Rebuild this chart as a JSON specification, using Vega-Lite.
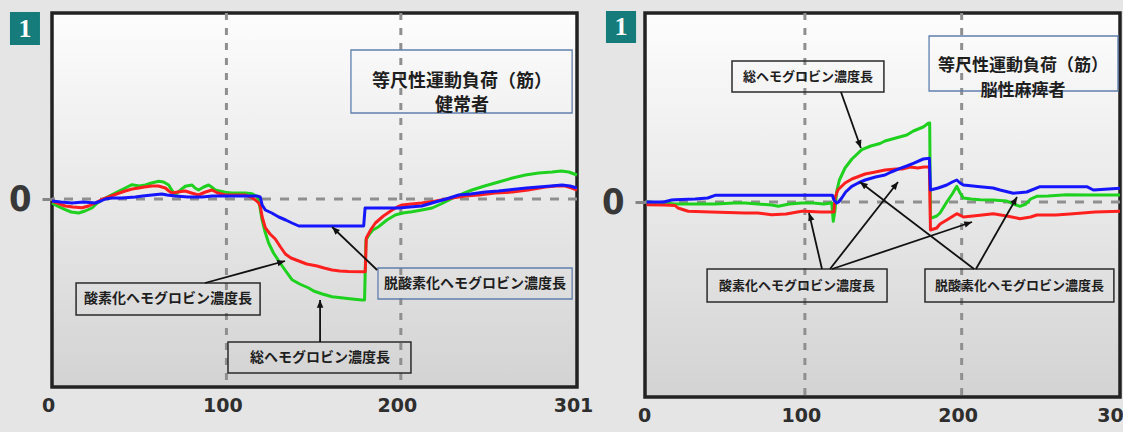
{
  "$schema": "https://vega.github.io/schema/vega-lite/v6.json",
  "background": "#e5e5e5",
  "padding": {"left": 6, "top": 9, "right": 0, "bottom": 10},
  "spacing": 68,
  "bounds": "flush",
  "config": {
    "view": {
      "stroke": "#222222",
      "strokeWidth": 3.5,
      "fill": {"gradient": "linear", "x1": 0, "y1": 0, "x2": 0, "y2": 1, "stops": [{"offset": 0, "color": "#fdfdfd"}, {"offset": 1, "color": "#d3d3d3"}]}
    },
    "axisX": {"grid": false, "domain": false, "ticks": false, "labelFont": "DejaVu Sans", "labelFontWeight": "bold", "labelFontSize": 19, "labelColor": "#2e2e2e", "labelPadding": 9, "labelFlush": false, "labelOverlap": false},
    "axisY": {"grid": false, "domain": false, "ticks": true, "tickSize": 10, "tickColor": "#858585", "tickWidth": 3, "labelFont": "Liberation Sans Narrow, DejaVu Sans Condensed, Liberation Sans", "labelFontWeight": "bold", "labelFontSize": 36, "labelColor": "#383838", "labelPadding": 11}
  },
  "datasets": {
    "refX": [{"x": 100}, {"x": 200}],
    "refY": [{"y": 0}],
    "curvesL": [
      {"s": "総ヘモグロビン", "t": 0, "v": -4}, {"s": "総ヘモグロビン", "t": 3, "v": -7}, {"s": "総ヘモグロビン", "t": 7.6, "v": -10.7}, {"s": "総ヘモグロビン", "t": 11, "v": -13}, {"s": "総ヘモグロビン", "t": 15.3, "v": -14}, {"s": "総ヘモグロビン", "t": 19, "v": -12}, {"s": "総ヘモグロビン", "t": 22.9, "v": -9}, {"s": "総ヘモグロビン", "t": 26, "v": -4}, {"s": "総ヘモグロビン", "t": 30.6, "v": 1}, {"s": "総ヘモグロビン", "t": 34, "v": 4}, {"s": "総ヘモグロビン", "t": 38.2, "v": 7.7}, {"s": "総ヘモグロビン", "t": 42, "v": 11}, {"s": "総ヘモグロビン", "t": 45.9, "v": 14.3}, {"s": "総ヘモグロビン", "t": 50, "v": 13}, {"s": "総ヘモグロビン", "t": 53.5, "v": 14}, {"s": "総ヘモグロビン", "t": 57, "v": 16}, {"s": "総ヘモグロビン", "t": 61.2, "v": 17.7}, {"s": "総ヘモグロビン", "t": 64, "v": 17}, {"s": "総ヘモグロビン", "t": 66.9, "v": 14}, {"s": "総ヘモグロビン", "t": 69, "v": 8}, {"s": "総ヘモグロビン", "t": 70.7, "v": 4}, {"s": "総ヘモグロビン", "t": 73, "v": 8}, {"s": "総ヘモグロビン", "t": 76.4, "v": 12.7}, {"s": "総ヘモグロビン", "t": 80.3, "v": 14}, {"s": "総ヘモグロビン", "t": 82, "v": 11}, {"s": "総ヘモグロビン", "t": 84, "v": 9}, {"s": "総ヘモグロビン", "t": 87, "v": 12}, {"s": "総ヘモグロビン", "t": 89.8, "v": 14}, {"s": "総ヘモグロビン", "t": 91.5, "v": 12}, {"s": "総ヘモグロビン", "t": 93.6, "v": 9}, {"s": "総ヘモグロビン", "t": 96, "v": 8}, {"s": "総ヘモグロビン", "t": 99.4, "v": 6.7}, {"s": "総ヘモグロビン", "t": 103, "v": 6}, {"s": "総ヘモグロビン", "t": 107, "v": 6}, {"s": "総ヘモグロビン", "t": 111, "v": 6}, {"s": "総ヘモグロビン", "t": 114.7, "v": 5.3}, {"s": "総ヘモグロビン", "t": 117, "v": 3}, {"s": "総ヘモグロビン", "t": 118.5, "v": -0.7}, {"s": "総ヘモグロビン", "t": 120.4, "v": -20.7}, {"s": "総ヘモグロビン", "t": 122, "v": -32}, {"s": "総ヘモグロビン", "t": 124.2, "v": -44}, {"s": "総ヘモグロビン", "t": 127, "v": -54}, {"s": "総ヘモグロビン", "t": 130, "v": -62}, {"s": "総ヘモグロビン", "t": 134, "v": -72}, {"s": "総ヘモグロビン", "t": 137.6, "v": -80.7}, {"s": "総ヘモグロビン", "t": 142, "v": -85}, {"s": "総ヘモグロビン", "t": 147.2, "v": -89}, {"s": "総ヘモグロビン", "t": 150, "v": -92}, {"s": "総ヘモグロビン", "t": 155, "v": -95}, {"s": "総ヘモグロビン", "t": 160.6, "v": -97.7}, {"s": "総ヘモグロビン", "t": 167, "v": -99}, {"s": "総ヘモグロビン", "t": 172, "v": -100}, {"s": "総ヘモグロビン", "t": 177.8, "v": -101}, {"s": "総ヘモグロビン", "t": 179.2, "v": -101}, {"s": "総ヘモグロビン", "t": 180, "v": -41}, {"s": "総ヘモグロビン", "t": 182, "v": -35}, {"s": "総ヘモグロビン", "t": 184, "v": -31}, {"s": "総ヘモグロビン", "t": 187.3, "v": -27.7}, {"s": "総ヘモグロビン", "t": 192, "v": -21}, {"s": "総ヘモグロビン", "t": 196.8, "v": -16}, {"s": "総ヘモグロビン", "t": 201, "v": -14}, {"s": "総ヘモグロビン", "t": 206.4, "v": -12.7}, {"s": "総ヘモグロビン", "t": 212, "v": -11}, {"s": "総ヘモグロビン", "t": 217.9, "v": -9}, {"s": "総ヘモグロビン", "t": 223, "v": -5}, {"s": "総ヘモグロビン", "t": 229.4, "v": 0.7}, {"s": "総ヘモグロビン", "t": 235, "v": 5}, {"s": "総ヘモグロビン", "t": 240.8, "v": 9}, {"s": "総ヘモグロビン", "t": 248, "v": 13}, {"s": "総ヘモグロビン", "t": 256.1, "v": 17}, {"s": "総ヘモグロビン", "t": 264, "v": 21}, {"s": "総ヘモグロビン", "t": 271.4, "v": 24}, {"s": "総ヘモグロビン", "t": 279, "v": 26}, {"s": "総ヘモグロビン", "t": 286.7, "v": 27}, {"s": "総ヘモグロビン", "t": 292, "v": 28}, {"s": "総ヘモグロビン", "t": 296.3, "v": 27}, {"s": "総ヘモグロビン", "t": 301, "v": 24},
      {"s": "酸素化ヘモグロビン", "t": 0, "v": -2}, {"s": "酸素化ヘモグロビン", "t": 3, "v": -4}, {"s": "酸素化ヘモグロビン", "t": 7.6, "v": -7}, {"s": "酸素化ヘモグロビン", "t": 12, "v": -8}, {"s": "酸素化ヘモグロビン", "t": 17.2, "v": -8.7}, {"s": "酸素化ヘモグロビン", "t": 21, "v": -7}, {"s": "酸素化ヘモグロビン", "t": 24.8, "v": -4}, {"s": "酸素化ヘモグロビン", "t": 28, "v": -1}, {"s": "酸素化ヘモグロビン", "t": 32.5, "v": 2}, {"s": "酸素化ヘモグロビン", "t": 37, "v": 5}, {"s": "酸素化ヘモグロビン", "t": 42, "v": 8}, {"s": "酸素化ヘモグロビン", "t": 46, "v": 10}, {"s": "酸素化ヘモグロビン", "t": 49.7, "v": 11}, {"s": "酸素化ヘモグロビン", "t": 53, "v": 12}, {"s": "酸素化ヘモグロビン", "t": 57.3, "v": 13}, {"s": "酸素化ヘモグロビン", "t": 61, "v": 13}, {"s": "酸素化ヘモグロビン", "t": 65, "v": 11}, {"s": "酸素化ヘモグロビン", "t": 67, "v": 8}, {"s": "酸素化ヘモグロビン", "t": 68.8, "v": 6}, {"s": "酸素化ヘモグロビン", "t": 72, "v": 7}, {"s": "酸素化ヘモグロビン", "t": 76.4, "v": 8}, {"s": "酸素化ヘモグロビン", "t": 80, "v": 6}, {"s": "酸素化ヘモグロビン", "t": 84, "v": 4}, {"s": "酸素化ヘモグロビン", "t": 88, "v": 7}, {"s": "酸素化ヘモグロビン", "t": 91.7, "v": 9}, {"s": "酸素化ヘモグロビン", "t": 95, "v": 6}, {"s": "酸素化ヘモグロビン", "t": 99.4, "v": 4}, {"s": "酸素化ヘモグロビン", "t": 105, "v": 4}, {"s": "酸素化ヘモグロビン", "t": 110.8, "v": 4}, {"s": "酸素化ヘモグロビン", "t": 114, "v": 2}, {"s": "酸素化ヘモグロビン", "t": 116.6, "v": -1}, {"s": "酸素化ヘモグロビン", "t": 118.5, "v": -4}, {"s": "酸素化ヘモグロビン", "t": 119.4, "v": -7}, {"s": "酸素化ヘモグロビン", "t": 120.5, "v": -18}, {"s": "酸素化ヘモグロビン", "t": 122.3, "v": -28.7}, {"s": "酸素化ヘモグロビン", "t": 125, "v": -35}, {"s": "酸素化ヘモグロビン", "t": 128, "v": -40}, {"s": "酸素化ヘモグロビン", "t": 131, "v": -48}, {"s": "酸素化ヘモグロビン", "t": 133.8, "v": -55}, {"s": "酸素化ヘモグロビン", "t": 137, "v": -59}, {"s": "酸素化ヘモグロビン", "t": 141.5, "v": -62}, {"s": "酸素化ヘモグロビン", "t": 146, "v": -65}, {"s": "酸素化ヘモグロビン", "t": 152, "v": -67}, {"s": "酸素化ヘモグロビン", "t": 156, "v": -69}, {"s": "酸素化ヘモグロビン", "t": 160.6, "v": -71}, {"s": "酸素化ヘモグロビン", "t": 165, "v": -72}, {"s": "酸素化ヘモグロビン", "t": 170, "v": -72.5}, {"s": "酸素化ヘモグロビン", "t": 179.6, "v": -72.7}, {"s": "酸素化ヘモグロビン", "t": 180.2, "v": -39}, {"s": "酸素化ヘモグロビン", "t": 183, "v": -30}, {"s": "酸素化ヘモグロビン", "t": 185.4, "v": -24}, {"s": "酸素化ヘモグロビン", "t": 190, "v": -17}, {"s": "酸素化ヘモグロビン", "t": 195, "v": -11}, {"s": "酸素化ヘモグロビン", "t": 198, "v": -8}, {"s": "酸素化ヘモグロビン", "t": 200.7, "v": -6}, {"s": "酸素化ヘモグロビン", "t": 206, "v": -5}, {"s": "酸素化ヘモグロビン", "t": 212, "v": -4}, {"s": "酸素化ヘモグロビン", "t": 220, "v": -2}, {"s": "酸素化ヘモグロビン", "t": 229.4, "v": 1}, {"s": "酸素化ヘモグロビン", "t": 237, "v": 3}, {"s": "酸素化ヘモグロビン", "t": 244.7, "v": 4}, {"s": "酸素化ヘモグロビン", "t": 254, "v": 6}, {"s": "酸素化ヘモグロビン", "t": 263.8, "v": 7}, {"s": "酸素化ヘモグロビン", "t": 273, "v": 9}, {"s": "酸素化ヘモグロビン", "t": 282.9, "v": 12}, {"s": "酸素化ヘモグロビン", "t": 289, "v": 13}, {"s": "酸素化ヘモグロビン", "t": 294.3, "v": 13}, {"s": "酸素化ヘモグロビン", "t": 298, "v": 11}, {"s": "酸素化ヘモグロビン", "t": 301, "v": 9},
      {"s": "脱酸素化ヘモグロビン", "t": 0, "v": -2}, {"s": "脱酸素化ヘモグロビン", "t": 5, "v": -3}, {"s": "脱酸素化ヘモグロビン", "t": 11.5, "v": -4}, {"s": "脱酸素化ヘモグロビン", "t": 18, "v": -3}, {"s": "脱酸素化ヘモグロビン", "t": 24.8, "v": -4}, {"s": "脱酸素化ヘモグロビン", "t": 28, "v": -2}, {"s": "脱酸素化ヘモグロビン", "t": 30.6, "v": 0}, {"s": "脱酸素化ヘモグロビン", "t": 34.4, "v": 1}, {"s": "脱酸素化ヘモグロビン", "t": 40, "v": 1}, {"s": "脱酸素化ヘモグロビン", "t": 47.8, "v": 2}, {"s": "脱酸素化ヘモグロビン", "t": 52, "v": 3}, {"s": "脱酸素化ヘモグロビン", "t": 57.3, "v": 4}, {"s": "脱酸素化ヘモグロビン", "t": 63, "v": 5}, {"s": "脱酸素化ヘモグロビン", "t": 66, "v": 4}, {"s": "脱酸素化ヘモグロビン", "t": 70.7, "v": 3}, {"s": "脱酸素化ヘモグロビン", "t": 78, "v": 2}, {"s": "脱酸素化ヘモグロビン", "t": 86, "v": 2}, {"s": "脱酸素化ヘモグロビン", "t": 92, "v": 3}, {"s": "脱酸素化ヘモグロビン", "t": 99.4, "v": 3}, {"s": "脱酸素化ヘモグロビン", "t": 107, "v": 3}, {"s": "脱酸素化ヘモグロビン", "t": 114.7, "v": 3}, {"s": "脱酸素化ヘモグロビン", "t": 117.5, "v": 3}, {"s": "脱酸素化ヘモグロビン", "t": 119.4, "v": 2}, {"s": "脱酸素化ヘモグロビン", "t": 120.5, "v": -6}, {"s": "脱酸素化ヘモグロビン", "t": 122.3, "v": -11}, {"s": "脱酸素化ヘモグロビン", "t": 126, "v": -14}, {"s": "脱酸素化ヘモグロビン", "t": 130, "v": -18}, {"s": "脱酸素化ヘモグロビン", "t": 134, "v": -21}, {"s": "脱酸素化ヘモグロビン", "t": 137.6, "v": -24}, {"s": "脱酸素化ヘモグロビン", "t": 141.5, "v": -27}, {"s": "脱酸素化ヘモグロビン", "t": 149, "v": -27}, {"s": "脱酸素化ヘモグロビン", "t": 160, "v": -27}, {"s": "脱酸素化ヘモグロビン", "t": 170, "v": -27}, {"s": "脱酸素化ヘモグロビン", "t": 178.7, "v": -27}, {"s": "脱酸素化ヘモグロビン", "t": 179.5, "v": -9}, {"s": "脱酸素化ヘモグロビン", "t": 190, "v": -9}, {"s": "脱酸素化ヘモグロビン", "t": 198.8, "v": -9}, {"s": "脱酸素化ヘモグロビン", "t": 205, "v": -8}, {"s": "脱酸素化ヘモグロビン", "t": 212, "v": -7}, {"s": "脱酸素化ヘモグロビン", "t": 216, "v": -5}, {"s": "脱酸素化ヘモグロビン", "t": 219.8, "v": -3}, {"s": "脱酸素化ヘモグロビン", "t": 226, "v": 0}, {"s": "脱酸素化ヘモグロビン", "t": 233.2, "v": 4}, {"s": "脱酸素化ヘモグロビン", "t": 240, "v": 5}, {"s": "脱酸素化ヘモグロビン", "t": 248.5, "v": 7}, {"s": "脱酸素化ヘモグロビン", "t": 256, "v": 8}, {"s": "脱酸素化ヘモグロビン", "t": 263.8, "v": 9.5}, {"s": "脱酸素化ヘモグロビン", "t": 272, "v": 11}, {"s": "脱酸素化ヘモグロビン", "t": 279, "v": 12}, {"s": "脱酸素化ヘモグロビン", "t": 286, "v": 13}, {"s": "脱酸素化ヘモグロビン", "t": 292.4, "v": 14}, {"s": "脱酸素化ヘモグロビン", "t": 297, "v": 13}, {"s": "脱酸素化ヘモグロビン", "t": 301, "v": 11}
    ],
    "curvesR": [
      {"s": "総ヘモグロビン", "t": -1, "v": 0}, {"s": "総ヘモグロビン", "t": 10, "v": -1}, {"s": "総ヘモグロビン", "t": 17.2, "v": -2}, {"s": "総ヘモグロビン", "t": 30, "v": -2}, {"s": "総ヘモグロビン", "t": 42.7, "v": -2}, {"s": "総ヘモグロビン", "t": 55, "v": -1}, {"s": "総ヘモグロビン", "t": 61.8, "v": -1}, {"s": "総ヘモグロビン", "t": 70, "v": -2}, {"s": "総ヘモグロビン", "t": 78.8, "v": -3}, {"s": "総ヘモグロビン", "t": 83.1, "v": -4.3}, {"s": "総ヘモグロビン", "t": 90, "v": -2}, {"s": "総ヘモグロビン", "t": 98, "v": -1}, {"s": "総ヘモグロビン", "t": 105, "v": -1}, {"s": "総ヘモグロビン", "t": 112, "v": -2}, {"s": "総ヘモグロビン", "t": 117.1, "v": -1}, {"s": "総ヘモグロビン", "t": 118.1, "v": -19.3}, {"s": "総ヘモグロビン", "t": 119.2, "v": -8}, {"s": "総ヘモグロビン", "t": 120.3, "v": 10.7}, {"s": "総ヘモグロビン", "t": 122, "v": 22}, {"s": "総ヘモグロビン", "t": 125.6, "v": 34}, {"s": "総ヘモグロビン", "t": 130, "v": 43}, {"s": "総ヘモグロビン", "t": 136.3, "v": 52.3}, {"s": "総ヘモグロビン", "t": 142, "v": 56}, {"s": "総ヘモグロビン", "t": 147.9, "v": 58.5}, {"s": "総ヘモグロビン", "t": 151.1, "v": 61}, {"s": "総ヘモグロビン", "t": 158.6, "v": 64.3}, {"s": "総ヘモグロビン", "t": 165, "v": 67}, {"s": "総ヘモグロビン", "t": 169.2, "v": 71}, {"s": "総ヘモグロビン", "t": 175.5, "v": 75}, {"s": "総ヘモグロビン", "t": 178.7, "v": 78.7}, {"s": "総ヘモグロビン", "t": 179.6, "v": 79}, {"s": "総ヘモグロビン", "t": 180.1, "v": -16.3}, {"s": "総ヘモグロビン", "t": 184.1, "v": -14}, {"s": "総ヘモグロビン", "t": 186.2, "v": -11}, {"s": "総ヘモグロビン", "t": 190.5, "v": 0}, {"s": "総ヘモグロビン", "t": 194, "v": 8}, {"s": "総ヘモグロビン", "t": 196.9, "v": 15.7}, {"s": "総ヘモグロビン", "t": 199, "v": 9}, {"s": "総ヘモグロビン", "t": 201.1, "v": 4}, {"s": "総ヘモグロビン", "t": 206, "v": 3}, {"s": "総ヘモグロビン", "t": 211.7, "v": 2.3}, {"s": "総ヘモグロビン", "t": 220, "v": 2}, {"s": "総ヘモグロビン", "t": 228.7, "v": 1}, {"s": "総ヘモグロビン", "t": 233, "v": -2}, {"s": "総ヘモグロビン", "t": 237.2, "v": -4.3}, {"s": "総ヘモグロビン", "t": 241, "v": -2}, {"s": "総ヘモグロビン", "t": 244, "v": 3}, {"s": "総ヘモグロビン", "t": 247.9, "v": 5.7}, {"s": "総ヘモグロビン", "t": 255, "v": 6}, {"s": "総ヘモグロビン", "t": 267, "v": 7.3}, {"s": "総ヘモグロビン", "t": 280, "v": 7}, {"s": "総ヘモグロビン", "t": 290, "v": 7}, {"s": "総ヘモグロビン", "t": 301, "v": 7},
      {"s": "酸素化ヘモグロビン", "t": -1, "v": -2.7}, {"s": "酸素化ヘモグロビン", "t": 10, "v": -3}, {"s": "酸素化ヘモグロビン", "t": 17.2, "v": -3.5}, {"s": "酸素化ヘモグロビン", "t": 19, "v": -6}, {"s": "酸素化ヘモグロビン", "t": 25.6, "v": -9.3}, {"s": "酸素化ヘモグロビン", "t": 40, "v": -10}, {"s": "酸素化ヘモグロビン", "t": 61.8, "v": -11}, {"s": "酸素化ヘモグロビン", "t": 70, "v": -11}, {"s": "酸素化ヘモグロビン", "t": 78.8, "v": -12.7}, {"s": "酸素化ヘモグロビン", "t": 88, "v": -12}, {"s": "酸素化ヘモグロビン", "t": 98, "v": -9.3}, {"s": "酸素化ヘモグロビン", "t": 100.1, "v": -9.3}, {"s": "酸素化ヘモグロビン", "t": 110, "v": -10}, {"s": "酸素化ヘモグロビン", "t": 117.1, "v": -10}, {"s": "酸素化ヘモグロビン", "t": 118.5, "v": -10}, {"s": "酸素化ヘモグロビン", "t": 119.2, "v": 4}, {"s": "酸素化ヘモグロビン", "t": 121, "v": 12}, {"s": "酸素化ヘモグロビン", "t": 125.6, "v": 19}, {"s": "酸素化ヘモグロビン", "t": 130, "v": 23}, {"s": "酸素化ヘモグロビン", "t": 138.4, "v": 28}, {"s": "酸素化ヘモグロビン", "t": 145, "v": 30}, {"s": "酸素化ヘモグロビン", "t": 151.1, "v": 32}, {"s": "酸素化ヘモグロビン", "t": 158, "v": 33}, {"s": "酸素化ヘモグロビン", "t": 162, "v": 33}, {"s": "酸素化ヘモグロビン", "t": 167.1, "v": 35}, {"s": "酸素化ヘモグロビン", "t": 172, "v": 34}, {"s": "酸素化ヘモグロビン", "t": 176, "v": 35}, {"s": "酸素化ヘモグロビン", "t": 179.4, "v": 35}, {"s": "酸素化ヘモグロビン", "t": 180.1, "v": -28}, {"s": "酸素化ヘモグロビン", "t": 184.1, "v": -26}, {"s": "酸素化ヘモグロビン", "t": 186.2, "v": -22}, {"s": "酸素化ヘモグロビン", "t": 190.5, "v": -18}, {"s": "酸素化ヘモグロビン", "t": 196.9, "v": -11.7}, {"s": "酸素化ヘモグロビン", "t": 201.1, "v": -15}, {"s": "酸素化ヘモグロビン", "t": 211.7, "v": -13.3}, {"s": "酸素化ヘモグロビン", "t": 220.2, "v": -11.7}, {"s": "酸素化ヘモグロビン", "t": 228.7, "v": -14}, {"s": "酸素化ヘモグロビン", "t": 237.2, "v": -16.7}, {"s": "酸素化ヘモグロビン", "t": 244, "v": -15}, {"s": "酸素化ヘモグロビン", "t": 247.9, "v": -13}, {"s": "酸素化ヘモグロビン", "t": 260, "v": -13}, {"s": "酸素化ヘモグロビン", "t": 271.2, "v": -11.7}, {"s": "酸素化ヘモグロビン", "t": 285, "v": -10}, {"s": "酸素化ヘモグロビン", "t": 301, "v": -9.3},
      {"s": "脱酸素化ヘモグロビン", "t": -1, "v": 0}, {"s": "脱酸素化ヘモグロビン", "t": 10, "v": 0}, {"s": "脱酸素化ヘモグロビン", "t": 15, "v": 2}, {"s": "脱酸素化ヘモグロビン", "t": 17.2, "v": 2.3}, {"s": "脱酸素化ヘモグロビン", "t": 30, "v": 3}, {"s": "脱酸素化ヘモグロビン", "t": 38, "v": 4}, {"s": "脱酸素化ヘモグロビン", "t": 42.7, "v": 6.7}, {"s": "脱酸素化ヘモグロビン", "t": 60, "v": 6.7}, {"s": "脱酸素化ヘモグロビン", "t": 80, "v": 6.7}, {"s": "脱酸素化ヘモグロビン", "t": 100.1, "v": 6.7}, {"s": "脱酸素化ヘモグロビン", "t": 110, "v": 6.7}, {"s": "脱酸素化ヘモグロビン", "t": 117.5, "v": 6.7}, {"s": "脱酸素化ヘモグロビン", "t": 118.5, "v": 2}, {"s": "脱酸素化ヘモグロビン", "t": 120.3, "v": -1}, {"s": "脱酸素化ヘモグロビン", "t": 121.5, "v": 0}, {"s": "脱酸素化ヘモグロビン", "t": 123.5, "v": 4}, {"s": "脱酸素化ヘモグロビン", "t": 126, "v": 10}, {"s": "脱酸素化ヘモグロビン", "t": 129.9, "v": 15.7}, {"s": "脱酸素化ヘモグロビン", "t": 134, "v": 19}, {"s": "脱酸素化ヘモグロビン", "t": 138.4, "v": 22}, {"s": "脱酸素化ヘモグロビン", "t": 145, "v": 25}, {"s": "脱酸素化ヘモグロビン", "t": 151.1, "v": 27}, {"s": "脱酸素化ヘモグロビン", "t": 155, "v": 30}, {"s": "脱酸素化ヘモグロビン", "t": 160.7, "v": 33.7}, {"s": "脱酸素化ヘモグロビン", "t": 165, "v": 36}, {"s": "脱酸素化ヘモグロビン", "t": 169.2, "v": 38.7}, {"s": "脱酸素化ヘモグロビン", "t": 175.5, "v": 43}, {"s": "脱酸素化ヘモグロビン", "t": 179.4, "v": 43.7}, {"s": "脱酸素化ヘモグロビン", "t": 180.1, "v": 12}, {"s": "脱酸素化ヘモグロビン", "t": 185, "v": 14}, {"s": "脱酸素化ヘモグロビン", "t": 190.5, "v": 17}, {"s": "脱酸素化ヘモグロビン", "t": 194, "v": 20}, {"s": "脱酸素化ヘモグロビン", "t": 196.9, "v": 22}, {"s": "脱酸素化ヘモグロビン", "t": 199, "v": 19}, {"s": "脱酸素化ヘモグロビン", "t": 201.1, "v": 17}, {"s": "脱酸素化ヘモグロビン", "t": 211.7, "v": 15.3}, {"s": "脱酸素化ヘモグロビン", "t": 220, "v": 14}, {"s": "脱酸素化ヘモグロビン", "t": 224.5, "v": 12}, {"s": "脱酸素化ヘモグロビン", "t": 233, "v": 8.7}, {"s": "脱酸素化ヘモグロビン", "t": 241.5, "v": 10}, {"s": "脱酸素化ヘモグロビン", "t": 250, "v": 15.3}, {"s": "脱酸素化ヘモグロビン", "t": 260, "v": 15.3}, {"s": "脱酸素化ヘモグロビン", "t": 279.8, "v": 15.3}, {"s": "脱酸素化ヘモグロビン", "t": 284, "v": 12}, {"s": "脱酸素化ヘモグロビン", "t": 301, "v": 13.7}
    ],
    "titleL": [{"x1": 171.4, "x2": 298.2, "y1": 149, "y2": 86, "tx": 235.1, "ty": 117.5, "label": "等尺性運動負荷（筋）\n健常者"}],
    "titleR": [{"x1": 179.2, "x2": 299.7, "y1": 166, "y2": 111, "tx": 239.1, "ty": 136.5, "label": "等尺性運動負荷（筋）\n脳性麻痺者"}],
    "boxesL": [
      {"x1": 13.8, "x2": 119.3, "y1": -84, "y2": -116, "tx": 66.5, "ty": -100, "label": "酸素化ヘモグロビン濃度長"},
      {"x1": 186.9, "x2": 298.2, "y1": -69, "y2": -100, "tx": 242.5, "ty": -84.5, "label": "脱酸素化ヘモグロビン濃度長"},
      {"x1": 100.9, "x2": 205.8, "y1": -143, "y2": -174, "tx": 153.7, "ty": -158.5, "label": "総ヘモグロビン濃度長"}
    ],
    "boxesR": [
      {"x1": 53.5, "x2": 150.4, "y1": 141, "y2": 110, "tx": 102, "ty": 125.5, "label": "総ヘモグロビン濃度長"},
      {"x1": 37.6, "x2": 152.4, "y1": -67, "y2": -100, "tx": 94.9, "ty": -83.5, "label": "酸素化ヘモグロビン濃度長"},
      {"x1": 176.6, "x2": 297.1, "y1": -67, "y2": -100, "tx": 236.9, "ty": -83.5, "label": "脱酸素化ヘモグロビン濃度長"}
    ],
    "arrowsL": [
      {"x": 87.7, "y": -84, "x2": 133.6, "y2": -62, "heading": 74.6},
      {"x": 186.4, "y": -71, "x2": 160.6, "y2": -28, "heading": -46.3},
      {"x": 153.7, "y": -143, "x2": 153.7, "y2": -101, "heading": 0}
    ],
    "arrowsR": [
      {"x": 123, "y": 110, "x2": 135.7, "y2": 54, "heading": 160.3},
      {"x": 110.9, "y": -67, "x2": 102.6, "y2": -11, "heading": -17.8},
      {"x": 116, "y": -67, "x2": 159.4, "y2": 20, "heading": 38},
      {"x": 117.3, "y": -67, "x2": 206.6, "y2": -20, "heading": 71.4},
      {"x": 207.9, "y": -67, "x2": 135.1, "y2": 20, "heading": -52.6},
      {"x": 209.1, "y": -67, "x2": 235.3, "y2": 5, "heading": 29.7}
    ],
    "badgeL": [{"x1": -24.1, "x2": -6.9, "y1": 187, "y2": 154, "tx": -15.5, "ty": 170.5, "label": "1"}],
    "badgeR": [{"x1": -26.9, "x2": -7.7, "y1": 191, "y2": 159, "tx": -17.3, "ty": 175, "label": "1"}]
  },
  "hconcat": [
    {
      "width": 525,
      "height": 374,
      "layer": [
        {
          "data": {"name": "refX"},
          "mark": {"type": "rule", "color": "#8f8f8f", "strokeWidth": 3, "strokeDash": [7, 8]},
          "encoding": {
            "x": {"field": "x", "type": "quantitative", "scale": {"domain": [0, 301], "nice": false, "zero": false}, "axis": {"values": [0, 100, 200, 301], "title": null, "format": "d", "labelOffset": -4}}
          }
        },
        {
          "data": {"name": "refY"},
          "mark": {"type": "rule", "color": "#8f8f8f", "strokeWidth": 3, "strokeDash": [9, 9]},
          "encoding": {
            "y": {"field": "y", "type": "quantitative", "scale": {"domain": [-188, 186], "nice": false, "zero": false}, "axis": {"values": [0], "title": null, "format": "d"}}
          }
        },
        {
          "data": {"name": "curvesL"},
          "mark": {"type": "line", "strokeWidth": 3, "strokeJoin": "round"},
          "encoding": {
            "x": {"field": "t", "type": "quantitative", "scale": {"domain": [0, 301], "nice": false, "zero": false}, "axis": {"values": [0, 100, 200, 301], "title": null, "format": "d", "labelOffset": -4}},
            "y": {"field": "v", "type": "quantitative", "scale": {"domain": [-188, 186], "nice": false, "zero": false}, "axis": {"values": [0], "title": null, "format": "d"}},
            "color": {"field": "s", "type": "nominal", "scale": {"domain": ["総ヘモグロビン", "酸素化ヘモグロビン", "脱酸素化ヘモグロビン"], "range": ["#1fd11f", "#ff1f1f", "#1515ff"]}, "legend": null}
          }
        },
        {
          "data": {"name": "titleL"},
          "mark": {"type": "rect", "filled": false, "stroke": "#5f7fae", "strokeWidth": 1.3},
          "encoding": {
            "x": {"field": "x1", "type": "quantitative", "scale": {"domain": [0, 301], "nice": false, "zero": false}, "axis": {"values": [0, 100, 200, 301], "title": null, "format": "d", "labelOffset": -4}},
            "x2": {"field": "x2"},
            "y": {"field": "y1", "type": "quantitative", "scale": {"domain": [-188, 186], "nice": false, "zero": false}, "axis": {"values": [0], "title": null, "format": "d"}},
            "y2": {"field": "y2"}
          }
        },
        {
          "data": {"name": "titleL"},
          "mark": {"type": "text", "font": "Noto Sans CJK JP", "fontWeight": "bold", "fontSize": 18, "lineBreak": "\n", "lineHeight": 24, "color": "#1e1e1e", "align": "center", "baseline": "middle"},
          "encoding": {
            "x": {"field": "tx", "type": "quantitative", "scale": {"domain": [0, 301], "nice": false, "zero": false}, "axis": {"values": [0, 100, 200, 301], "title": null, "format": "d", "labelOffset": -4}},
            "y": {"field": "ty", "type": "quantitative", "scale": {"domain": [-188, 186], "nice": false, "zero": false}, "axis": {"values": [0], "title": null, "format": "d"}},
            "text": {"field": "label"}
          }
        },
        {
          "data": {"name": "boxesL"},
          "transform": [{"filter": {"field": "label", "oneOf": ["酸素化ヘモグロビン濃度長", "総ヘモグロビン濃度長"]}}],
          "mark": {"type": "rect", "filled": false, "stroke": "#2a2a2a", "strokeWidth": 1.5},
          "encoding": {
            "x": {"field": "x1", "type": "quantitative", "scale": {"domain": [0, 301], "nice": false, "zero": false}, "axis": {"values": [0, 100, 200, 301], "title": null, "format": "d", "labelOffset": -4}},
            "x2": {"field": "x2"},
            "y": {"field": "y1", "type": "quantitative", "scale": {"domain": [-188, 186], "nice": false, "zero": false}, "axis": {"values": [0], "title": null, "format": "d"}},
            "y2": {"field": "y2"}
          }
        },
        {
          "data": {"name": "boxesL"},
          "transform": [{"filter": {"field": "label", "equal": "脱酸素化ヘモグロビン濃度長"}}],
          "mark": {"type": "rect", "filled": false, "stroke": "#5f7fae", "strokeWidth": 1.3},
          "encoding": {
            "x": {"field": "x1", "type": "quantitative", "scale": {"domain": [0, 301], "nice": false, "zero": false}, "axis": {"values": [0, 100, 200, 301], "title": null, "format": "d", "labelOffset": -4}},
            "x2": {"field": "x2"},
            "y": {"field": "y1", "type": "quantitative", "scale": {"domain": [-188, 186], "nice": false, "zero": false}, "axis": {"values": [0], "title": null, "format": "d"}},
            "y2": {"field": "y2"}
          }
        },
        {
          "data": {"name": "boxesL"},
          "mark": {"type": "text", "font": "Noto Sans CJK JP", "fontWeight": "bold", "fontSize": 14, "color": "#1e1e1e", "align": "center", "baseline": "middle"},
          "encoding": {
            "x": {"field": "tx", "type": "quantitative", "scale": {"domain": [0, 301], "nice": false, "zero": false}, "axis": {"values": [0, 100, 200, 301], "title": null, "format": "d", "labelOffset": -4}},
            "y": {"field": "ty", "type": "quantitative", "scale": {"domain": [-188, 186], "nice": false, "zero": false}, "axis": {"values": [0], "title": null, "format": "d"}},
            "text": {"field": "label"}
          }
        },
        {
          "data": {"name": "arrowsL"},
          "mark": {"type": "rule", "color": "#111111", "strokeWidth": 1.8},
          "encoding": {
            "x": {"field": "x", "type": "quantitative", "scale": {"domain": [0, 301], "nice": false, "zero": false}, "axis": {"values": [0, 100, 200, 301], "title": null, "format": "d", "labelOffset": -4}},
            "y": {"field": "y", "type": "quantitative", "scale": {"domain": [-188, 186], "nice": false, "zero": false}, "axis": {"values": [0], "title": null, "format": "d"}},
            "x2": {"field": "x2"},
            "y2": {"field": "y2"}
          }
        },
        {
          "data": {"name": "arrowsL"},
          "mark": {"type": "point", "filled": true, "shape": "M0,0L0.42,1L-0.42,1Z", "size": 240, "color": "#111111", "opacity": 1},
          "encoding": {
            "x": {"field": "x2", "type": "quantitative", "scale": {"domain": [0, 301], "nice": false, "zero": false}, "axis": {"values": [0, 100, 200, 301], "title": null, "format": "d", "labelOffset": -4}},
            "y": {"field": "y2", "type": "quantitative", "scale": {"domain": [-188, 186], "nice": false, "zero": false}, "axis": {"values": [0], "title": null, "format": "d"}},
            "angle": {"field": "heading", "type": "quantitative", "scale": null}
          }
        },
        {
          "data": {"name": "badgeL"},
          "mark": {"type": "rect", "color": "#167b7b"},
          "encoding": {
            "x": {"field": "x1", "type": "quantitative", "scale": {"domain": [0, 301], "nice": false, "zero": false}, "axis": {"values": [0, 100, 200, 301], "title": null, "format": "d", "labelOffset": -4}},
            "x2": {"field": "x2"},
            "y": {"field": "y1", "type": "quantitative", "scale": {"domain": [-188, 186], "nice": false, "zero": false}, "axis": {"values": [0], "title": null, "format": "d"}},
            "y2": {"field": "y2"}
          }
        },
        {
          "data": {"name": "badgeL"},
          "mark": {"type": "text", "font": "Liberation Serif", "fontWeight": "bold", "fontSize": 26, "color": "#ffffff", "align": "center", "baseline": "middle"},
          "encoding": {
            "x": {"field": "tx", "type": "quantitative", "scale": {"domain": [0, 301], "nice": false, "zero": false}, "axis": {"values": [0, 100, 200, 301], "title": null, "format": "d", "labelOffset": -4}},
            "y": {"field": "ty", "type": "quantitative", "scale": {"domain": [-188, 186], "nice": false, "zero": false}, "axis": {"values": [0], "title": null, "format": "d"}},
            "text": {"field": "label"}
          }
        }
      ]
    },
    {
      "width": 475,
      "height": 384,
      "layer": [
        {
          "data": {"name": "refX"},
          "mark": {"type": "rule", "color": "#8f8f8f", "strokeWidth": 3, "strokeDash": [7, 8]},
          "encoding": {
            "x": {"field": "x", "type": "quantitative", "scale": {"domain": [-2, 301], "nice": false, "zero": false}, "axis": {"values": [0, 100, 200, 301], "title": null, "format": "d", "labelExpr": "datum.value === 301 ? '30' : datum.label", "labelOffset": {"condition": {"test": "datum.value === 301", "value": -10}, "value": -4}}}
          }
        },
        {
          "data": {"name": "refY"},
          "mark": {"type": "rule", "color": "#8f8f8f", "strokeWidth": 3, "strokeDash": [9, 9]},
          "encoding": {
            "y": {"field": "y", "type": "quantitative", "scale": {"domain": [-195, 189], "nice": false, "zero": false}, "axis": {"values": [0], "title": null, "format": "d"}}
          }
        },
        {
          "data": {"name": "curvesR"},
          "mark": {"type": "line", "strokeWidth": 3, "strokeJoin": "round"},
          "encoding": {
            "x": {"field": "t", "type": "quantitative", "scale": {"domain": [-2, 301], "nice": false, "zero": false}, "axis": {"values": [0, 100, 200, 301], "title": null, "format": "d", "labelExpr": "datum.value === 301 ? '30' : datum.label", "labelOffset": {"condition": {"test": "datum.value === 301", "value": -10}, "value": -4}}},
            "y": {"field": "v", "type": "quantitative", "scale": {"domain": [-195, 189], "nice": false, "zero": false}, "axis": {"values": [0], "title": null, "format": "d"}},
            "color": {"field": "s", "type": "nominal", "scale": {"domain": ["総ヘモグロビン", "酸素化ヘモグロビン", "脱酸素化ヘモグロビン"], "range": ["#1fd11f", "#ff1f1f", "#1515ff"]}, "legend": null}
          }
        },
        {
          "data": {"name": "titleR"},
          "mark": {"type": "rect", "filled": false, "stroke": "#5f7fae", "strokeWidth": 1.3},
          "encoding": {
            "x": {"field": "x1", "type": "quantitative", "scale": {"domain": [-2, 301], "nice": false, "zero": false}, "axis": {"values": [0, 100, 200, 301], "title": null, "format": "d", "labelExpr": "datum.value === 301 ? '30' : datum.label", "labelOffset": {"condition": {"test": "datum.value === 301", "value": -10}, "value": -4}}},
            "x2": {"field": "x2"},
            "y": {"field": "y1", "type": "quantitative", "scale": {"domain": [-195, 189], "nice": false, "zero": false}, "axis": {"values": [0], "title": null, "format": "d"}},
            "y2": {"field": "y2"}
          }
        },
        {
          "data": {"name": "titleR"},
          "mark": {"type": "text", "font": "Noto Sans CJK JP", "fontWeight": "bold", "fontSize": 17, "lineBreak": "\n", "lineHeight": 25, "color": "#1e1e1e", "align": "center", "baseline": "middle"},
          "encoding": {
            "x": {"field": "tx", "type": "quantitative", "scale": {"domain": [-2, 301], "nice": false, "zero": false}, "axis": {"values": [0, 100, 200, 301], "title": null, "format": "d", "labelExpr": "datum.value === 301 ? '30' : datum.label", "labelOffset": {"condition": {"test": "datum.value === 301", "value": -10}, "value": -4}}},
            "y": {"field": "ty", "type": "quantitative", "scale": {"domain": [-195, 189], "nice": false, "zero": false}, "axis": {"values": [0], "title": null, "format": "d"}},
            "text": {"field": "label"}
          }
        },
        {
          "data": {"name": "boxesR"},
          "mark": {"type": "rect", "filled": false, "stroke": "#2a2a2a", "strokeWidth": 1.5},
          "encoding": {
            "x": {"field": "x1", "type": "quantitative", "scale": {"domain": [-2, 301], "nice": false, "zero": false}, "axis": {"values": [0, 100, 200, 301], "title": null, "format": "d", "labelExpr": "datum.value === 301 ? '30' : datum.label", "labelOffset": {"condition": {"test": "datum.value === 301", "value": -10}, "value": -4}}},
            "x2": {"field": "x2"},
            "y": {"field": "y1", "type": "quantitative", "scale": {"domain": [-195, 189], "nice": false, "zero": false}, "axis": {"values": [0], "title": null, "format": "d"}},
            "y2": {"field": "y2"}
          }
        },
        {
          "data": {"name": "boxesR"},
          "mark": {"type": "text", "font": "Noto Sans CJK JP", "fontWeight": "bold", "fontSize": 13, "color": "#1e1e1e", "align": "center", "baseline": "middle"},
          "encoding": {
            "x": {"field": "tx", "type": "quantitative", "scale": {"domain": [-2, 301], "nice": false, "zero": false}, "axis": {"values": [0, 100, 200, 301], "title": null, "format": "d", "labelExpr": "datum.value === 301 ? '30' : datum.label", "labelOffset": {"condition": {"test": "datum.value === 301", "value": -10}, "value": -4}}},
            "y": {"field": "ty", "type": "quantitative", "scale": {"domain": [-195, 189], "nice": false, "zero": false}, "axis": {"values": [0], "title": null, "format": "d"}},
            "text": {"field": "label"}
          }
        },
        {
          "data": {"name": "arrowsR"},
          "mark": {"type": "rule", "color": "#111111", "strokeWidth": 1.8},
          "encoding": {
            "x": {"field": "x", "type": "quantitative", "scale": {"domain": [-2, 301], "nice": false, "zero": false}, "axis": {"values": [0, 100, 200, 301], "title": null, "format": "d", "labelExpr": "datum.value === 301 ? '30' : datum.label", "labelOffset": {"condition": {"test": "datum.value === 301", "value": -10}, "value": -4}}},
            "y": {"field": "y", "type": "quantitative", "scale": {"domain": [-195, 189], "nice": false, "zero": false}, "axis": {"values": [0], "title": null, "format": "d"}},
            "x2": {"field": "x2"},
            "y2": {"field": "y2"}
          }
        },
        {
          "data": {"name": "arrowsR"},
          "mark": {"type": "point", "filled": true, "shape": "M0,0L0.42,1L-0.42,1Z", "size": 240, "color": "#111111", "opacity": 1},
          "encoding": {
            "x": {"field": "x2", "type": "quantitative", "scale": {"domain": [-2, 301], "nice": false, "zero": false}, "axis": {"values": [0, 100, 200, 301], "title": null, "format": "d", "labelExpr": "datum.value === 301 ? '30' : datum.label", "labelOffset": {"condition": {"test": "datum.value === 301", "value": -10}, "value": -4}}},
            "y": {"field": "y2", "type": "quantitative", "scale": {"domain": [-195, 189], "nice": false, "zero": false}, "axis": {"values": [0], "title": null, "format": "d"}},
            "angle": {"field": "heading", "type": "quantitative", "scale": null}
          }
        },
        {
          "data": {"name": "badgeR"},
          "mark": {"type": "rect", "color": "#167b7b"},
          "encoding": {
            "x": {"field": "x1", "type": "quantitative", "scale": {"domain": [-2, 301], "nice": false, "zero": false}, "axis": {"values": [0, 100, 200, 301], "title": null, "format": "d", "labelExpr": "datum.value === 301 ? '30' : datum.label", "labelOffset": {"condition": {"test": "datum.value === 301", "value": -10}, "value": -4}}},
            "x2": {"field": "x2"},
            "y": {"field": "y1", "type": "quantitative", "scale": {"domain": [-195, 189], "nice": false, "zero": false}, "axis": {"values": [0], "title": null, "format": "d"}},
            "y2": {"field": "y2"}
          }
        },
        {
          "data": {"name": "badgeR"},
          "mark": {"type": "text", "font": "Liberation Serif", "fontWeight": "bold", "fontSize": 26, "color": "#ffffff", "align": "center", "baseline": "middle"},
          "encoding": {
            "x": {"field": "tx", "type": "quantitative", "scale": {"domain": [-2, 301], "nice": false, "zero": false}, "axis": {"values": [0, 100, 200, 301], "title": null, "format": "d", "labelExpr": "datum.value === 301 ? '30' : datum.label", "labelOffset": {"condition": {"test": "datum.value === 301", "value": -10}, "value": -4}}},
            "y": {"field": "ty", "type": "quantitative", "scale": {"domain": [-195, 189], "nice": false, "zero": false}, "axis": {"values": [0], "title": null, "format": "d"}},
            "text": {"field": "label"}
          }
        }
      ]
    }
  ]
}
